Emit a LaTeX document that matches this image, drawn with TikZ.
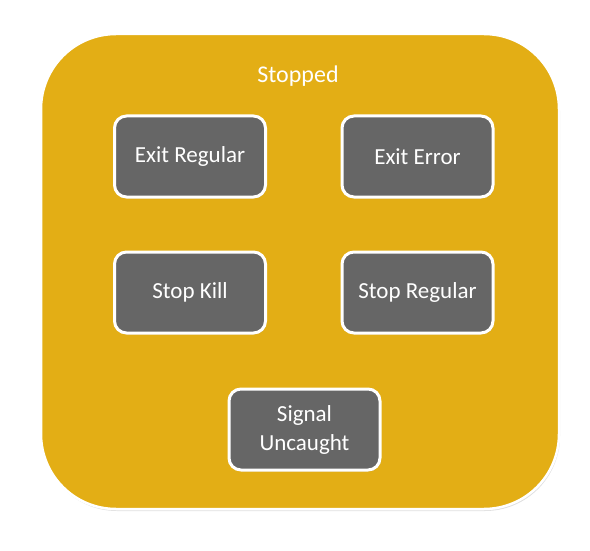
\documentclass[tikz,border=0pt]{standalone}
\usepackage{fontspec}
\setmainfont{Carlito}
\usetikzlibrary{shadows}
\definecolor{stopgold}{HTML}{E3AE15}
\definecolor{stategray}{HTML}{666666}
\begin{document}
\begin{tikzpicture}[x=1pt,y=-1pt,
    group/.style={rectangle,rounded corners=75pt,draw=white,line width=2.5pt,fill=stopgold,
        minimum width=518pt,minimum height=475pt,inner sep=0pt,
        drop shadow={opacity=0.25,shadow xshift=1pt,shadow yshift=-2pt}},
    state/.style={rectangle,rounded corners=12pt,draw=white,line width=3pt,fill=stategray,
        minimum width=151pt,minimum height=81pt,inner sep=0pt,align=center,
        text=white,font=\fontsize{23}{29}\selectfont,
        drop shadow={opacity=0.25,shadow xshift=1pt,shadow yshift=-1.5pt}}]
      \useasboundingbox (0,0) rectangle (590,551);
      \node[group] (stopped) at (300,271.5) {};
      \node[text=white,font=\fontsize{24}{28}\selectfont] (title) at (298,76) {Stopped};
      \node[state] (exitreg) at (190,156.5) {Exit Regular};
      \node[state] (exiterr) at (417.5,156.5) {Exit Error};
      \node[state] (stopkill) at (190,292.5) {Stop Kill};
      \node[state] (stopreg) at (417.5,292.5) {Stop Regular};
      \node[state] (siguncaught) at (304.5,429.5) {Signal\\Uncaught};
    \end{tikzpicture}
\end{document}
